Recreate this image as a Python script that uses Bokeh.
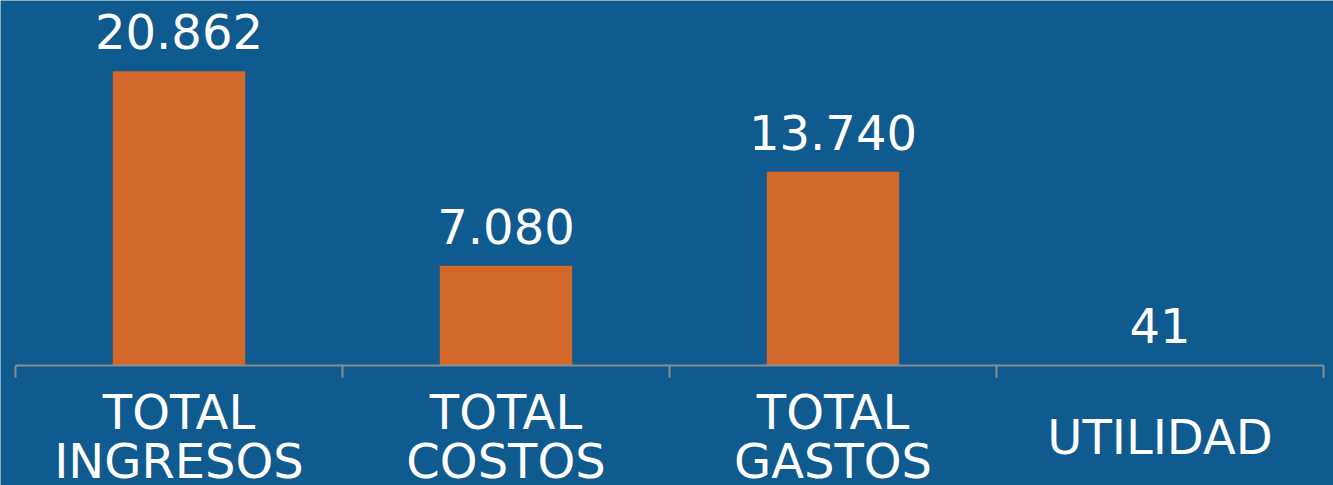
from bokeh.plotting import figure
from bokeh.models import (ColumnDataSource, Range1d, LinearAxis, FixedTicker)
from bokeh.core.properties import value
from bokeh.embed import file_html
from bokeh.resources import INLINE

categories = ["TOTAL\nINGRESOS", "TOTAL\nCOSTOS", "TOTAL\nGASTOS", "UTILIDAD"]
values = [20862, 7080, 13740, 41]
value_labels = [f"{v:,}".replace(",", ".") for v in values]

BG = "#0F5A8E"
BAR = "#D2682A"
AXIS = "#8C8C8C"
FONT = "DejaVu Sans"

n = len(categories)
centers = [i + 0.5 for i in range(n)]
boundaries = list(range(n + 1))

# pixel scales: 327 px per category, 0.0141 px per unit of value
XPX = 327.0
PX = 0.0141
x_lo = -15 / XPX
x_hi = n + 10 / XPX
y_top = 365 / PX
y_bot = -(485 - 365) / PX

src = ColumnDataSource(dict(x=centers, val=values, lab=value_labels,
                            cat=categories, zero=[0] * n))

p = figure(x_range=Range1d(x_lo, x_hi), y_range=Range1d(y_bot, y_top),
           frame_width=1333, frame_height=485,
           x_axis_location=None, y_axis_location=None,
           output_backend="svg", toolbar_location=None,
           background_fill_color=BG, border_fill_color=BG,
           min_border=0, outline_line_color=None)
p.xgrid.visible = False
p.ygrid.visible = False

p.vbar(x="x", top="val", bottom="zero", width=0.405, source=src,
       fill_color=BAR, line_color=None)
p.text(x="x", y="val", text="lab", source=src, text_align="center",
       text_baseline="bottom", y_offset=-22, text_color="white",
       text_font=value(FONT), text_font_size="48px")

tick_axis = LinearAxis(ticker=FixedTicker(ticks=boundaries), fixed_location=0,
                       bounds=(boundaries[0], boundaries[-1]),
                       axis_line_color=AXIS, axis_line_width=2,
                       major_tick_line_color=AXIS, major_tick_line_width=2,
                       major_tick_out=12, major_tick_in=0,
                       minor_tick_line_color=None,
                       major_label_overrides={b: "" for b in boundaries},
                       major_label_text_font_size="1px", major_label_standoff=0)
p.add_layout(tick_axis, "below")

p.text(x="x", y="zero", text="cat", source=src, text_align="center",
       text_baseline="middle", y_offset=71, text_color="white",
       text_font=value(FONT), text_font_size="48px", text_line_height=0.875)

open("out.html", "w").write(file_html(p, INLINE))
